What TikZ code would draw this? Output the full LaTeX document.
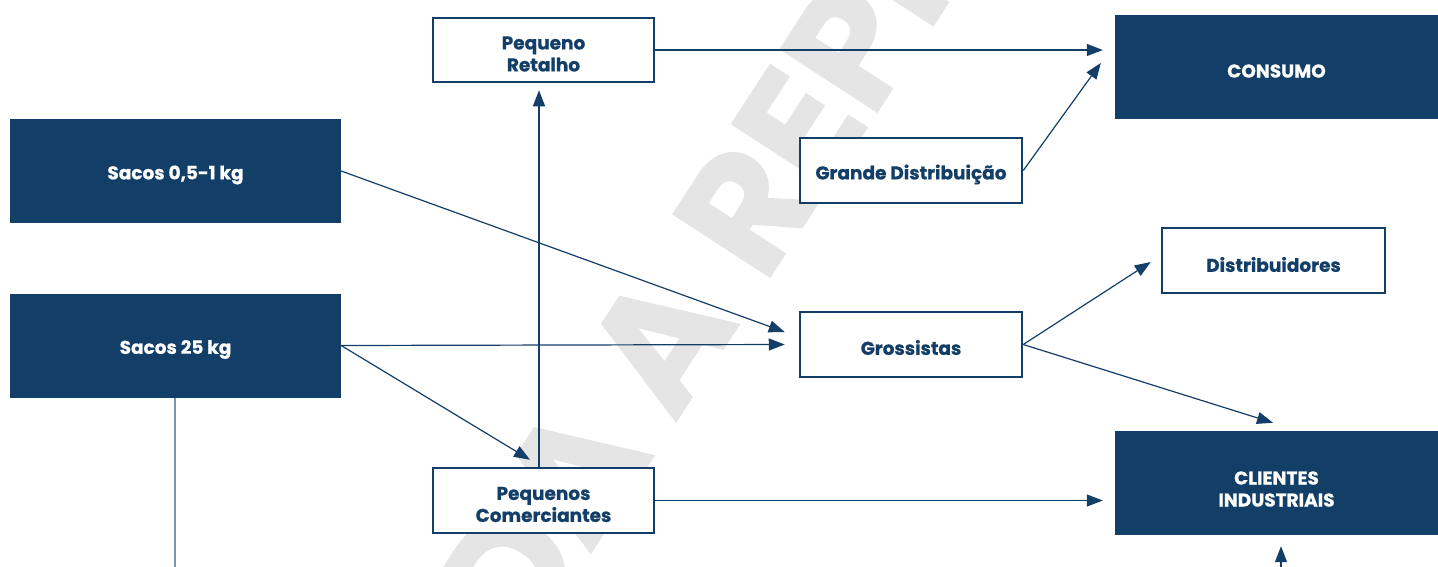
\documentclass[tikz,border=0pt]{standalone}
\usepackage{fontspec}
\setmainfont{Poppins}[BoldFeatures={FakeBold=0.7}]
\usetikzlibrary{arrows.meta,calc}
\definecolor{navy}{RGB}{18,62,103}
\definecolor{wmgray}{RGB}{229,229,229}
\tikzset{
  solidbox/.style={rectangle, fill=navy, inner sep=0pt},
  linebox/.style={rectangle, draw=navy, line width=2.5pt, fill=white, inner sep=0pt},
  boxtext/.style={font=\bfseries\fontsize{18.5}{22}\selectfont, align=center, inner sep=0pt},
  whitetext/.style={boxtext, text=white},
  navytext/.style={boxtext, text=navy},
  arr/.style={draw=navy, line width=1.2pt, -{Triangle[length=16pt,width=12pt]}},
  plainline/.style={draw=navy!55, line width=1.4pt},
  wm/.style={text=wmgray, font=\bfseries\fontsize{165}{165}\selectfont, rotate=57, inner sep=0pt}
}
\begin{document}
\begin{tikzpicture}[x=1pt,y=-1pt]
\useasboundingbox (0,0) rectangle (1438,566);
\begin{scope}
\clip (0,0) rectangle (1438,566);
\node[wm, anchor=base east] (wm1) at (741,322) {PROIBIDA A};
\node[wm, anchor=base west] (wm2) at (wm1.base east) {\hspace*{0.26em}REPRODUÇÃO};
\end{scope}

\node[solidbox, minimum width=331, minimum height=104] (sacA) at (175.5,171) {};
\node[solidbox, minimum width=331, minimum height=104] (sacB) at (175.5,345.5) {};
\node[linebox, minimum width=221, minimum height=64] (pret) at (543.5,50) {};
\node[linebox, minimum width=221, minimum height=65] (pcom) at (543.5,500.5) {};
\node[linebox, minimum width=222, minimum height=65] (gdist) at (911,170.5) {};
\node[linebox, minimum width=222, minimum height=65] (gros) at (911,344.5) {};
\node[linebox, minimum width=223, minimum height=65] (distr) at (1273.5,260.5) {};
\node[solidbox, minimum width=323, minimum height=104] (cons) at (1276.5,67) {};
\node[solidbox, minimum width=323, minimum height=104] (cli) at (1276.5,483) {};

\node[whitetext] (sacAt) at ($(sacA.center)+(0,4)$) {Sacos 0,5-1 kg};
\node[whitetext] (sacBt) at ($(sacB.center)+(0,4)$) {Sacos 25 kg};
\node[navytext] (prett) at ($(pret.center)+(0,4)$) {Pequeno\\Retalho};
\node[navytext] (pcomt) at ($(pcom.center)+(0,4)$) {Pequenos\\Comerciantes};
\node[navytext] (gdistt) at ($(gdist.center)+(0,4)$) {Grande Distribuição};
\node[navytext] (grost) at ($(gros.center)+(0,3)$) {Grossistas};
\node[navytext] (distrt) at ($(distr.center)+(0,4)$) {Distribuidores};
\node[whitetext] (const) at ($(cons.center)+(0,4)$) {CONSUMO};
\node[whitetext] (clit) at ($(cli.center)+(0,6)$) {CLIENTES\\INDUSTRIAIS};

\coordinate (sacBend) at (175,570);
\coordinate (cliIn) at (1281,570);

\draw[arr] (pret.east) -- ($(cons.west)+(-12,-17)$);
\draw[arr] (gdist.east) -- ($(cons.west)+(-14,-4)$);
\draw[arr] (sacA.east) -- ($(gros.west)+(-14,-12.5)$);
\draw[arr] (sacB.east) -- ($(gros.west)+(-14,0)$);
\draw[arr] (sacB.east) -- ($(pcom.north)+(-13.5,-7)$);
\draw[arr] ($(pcom.north)+(-4.5,0)$) -- ($(pret.south)+(-4.5,7)$);
\draw[arr] (pcom.east) -- ($(cli.west)+(-12,17.5)$);
\draw[arr] (gros.east) -- ($(distr.west)+(-10,1.5)$);
\draw[arr] (gros.east) -- ($(cli.north)+(-3.5,-8)$);
\draw[plainline] ($(sacB.south)+(-0.5,0)$) -- (sacBend);
\draw[arr] (cliIn) -- ($(cli.south)+(4.5,11)$);
\end{tikzpicture}
\end{document}
